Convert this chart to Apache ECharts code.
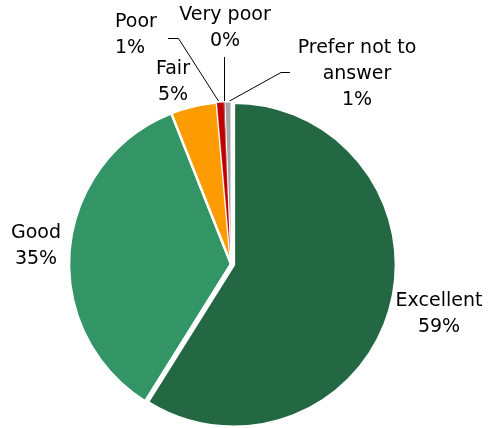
<!DOCTYPE html>
<html>
<head>
<meta charset="utf-8">
<script src="https://cdn.jsdelivr.net/npm/echarts@6/dist/echarts.min.js"></script>
<style>
  html, body { margin: 0; padding: 0; background: #fff; }
  #chart { width: 489px; height: 428px; }
</style>
</head>
<body>
<div id="chart"></div>
<script>
// Survey responses (percent of respondents)
const categories = ['Excellent', 'Good', 'Fair', 'Poor', 'Very poor', 'Prefer not to answer'];
const values = [58.9, 35.1, 4.6, 0.7, 0.1, 0.6];
const labelTexts = ['Excellent', 'Good', 'Fair', 'Poor', 'Very poor', 'Prefer not to\nanswer'];
const colors = ['#236843', '#339466', '#fd9b02', '#c00000', '#7a0000', '#a6a6a6'];

// Slice outline widths (thin slivers get thinner outlines so they stay visible)
const borderWidths = [2.5, 2.5, 2.5, 0.3, 0, 1];

// Label anchors and leader lines for each slice
const labelSpots = [
  { x: 442, y: 322, align: 'center' },
  { x: 36, y: 246, align: 'center' },
  { x: 173, y: 82, align: 'center' },
  { x: 115, y: 35, align: 'left', line: [[218.5, 101], [178.5, 38.5], [168, 38.5]] },
  { x: 225, y: 28, align: 'center', line: [[224.5, 101], [224.5, 57]] },
  { x: 357, y: 74, align: 'center', line: [[229.5, 101], [281, 72.5], [290, 72.5]] }
];

const chart = echarts.init(document.getElementById('chart'), null, { renderer: 'canvas' });

chart.setOption({
  animation: false,
  series: [{
    type: 'pie',
    center: [231, 264],
    radius: 162,
    startAngle: 90,
    clockwise: true,
    selectedMode: 'single',
    selectedOffset: 3,
    avoidLabelOverlap: false,
    itemStyle: { borderColor: '#ffffff', borderWidth: 2.5 },
    emphasis: { disabled: true },
    label: {
      show: true,
      position: 'outside',
      fontFamily: 'DejaVu Sans',
      fontSize: 19,
      lineHeight: 26,
      color: '#000000',
      formatter: p => labelTexts[p.dataIndex] + '\n' + Math.round(p.value) + '%'
    },
    labelLine: {
      show: true,
      lineStyle: { color: '#000000', width: 1, opacity: 1 }
    },
    labelLayout: p => {
      const s = labelSpots[p.dataIndex];
      const out = { x: s.x, y: s.y, align: s.align, verticalAlign: 'middle' };
      if (s.line) out.labelLinePoints = s.line;
      return out;
    },
    data: categories.map((name, i) => ({
      name: name,
      value: values[i],
      selected: i === 0,
      itemStyle: { color: colors[i], borderWidth: borderWidths[i] },
      select: { itemStyle: { color: colors[i], borderWidth: borderWidths[i] } },
      labelLine: { show: !!labelSpots[i].line }
    }))
  }]
});
</script>
</body>
</html>
